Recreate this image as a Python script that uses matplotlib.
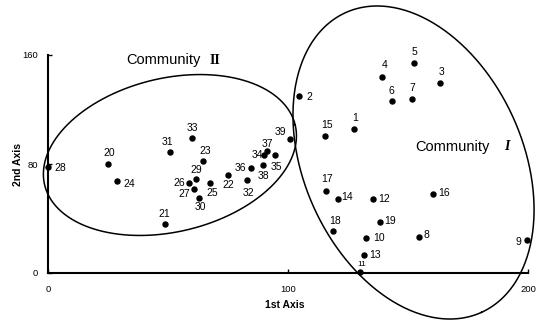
import numpy as np
import matplotlib.pyplot as plt

plt.rcParams['font.family'] = ['Liberation Sans', 'DejaVu Sans']

# site scores on the first two ordination axes
site_ids = list(range(1, 40))
axis1 = [127.5, 104.6, 163.5, 139.3, 152.4, 143.5, 151.5, 154.7, 199.7, 132.6,
         130.0, 135.4, 131.7, 120.7, 115.5, 160.5, 115.7, 118.8, 138.5, 24.9,
         48.9, 74.9, 64.7, 28.8, 67.6, 58.8, 60.8, 0.1, 61.8, 62.9,
         50.8, 82.8, 59.9, 90.1, 94.6, 84.7, 91.4, 89.7, 100.8]
axis2 = [105.7, 130.1, 139.2, 144.1, 154.3, 126.2, 127.9, 26.6, 24.2, 25.7,
         0.8, 54.1, 13.4, 54.1, 100.6, 58.2, 60.2, 30.8, 37.2, 80.0,
         36.2, 71.9, 82.2, 67.7, 66.1, 66.1, 61.9, 78.0, 69.0, 54.8,
         88.6, 68.5, 99.3, 86.6, 86.4, 77.3, 89.8, 79.5, 98.3]

# community ellipses: centre, first and second half-axis vectors (data units)
comm1_centre, comm1_u, comm1_v = (152.3, 81.1), (28.3, -110.0), (41.5, 33.1)
comm2_centre, comm2_u, comm2_v = (50.8, 86.6), (52.2, 22.0), (-7.44, 54.8)

# where each number sits relative to its dot (pixels, x right / y up)
label_offset = {
    1: (1, 11), 2: (10, -1), 3: (1, 11), 4: (2, 12), 5: (1, 11), 6: (-1, 10),
    7: (1, 11), 8: (7, 2), 9: (-9, -2), 10: (13, 0), 11: (2, 7), 12: (11, 0),
    13: (11, 0), 14: (9, 2), 15: (2, 11), 16: (11, 1), 17: (1, 12), 18: (2, 10),
    19: (10, 1), 20: (1, 11), 21: (-1, 10), 22: (1, -10), 23: (2, 10), 24: (12, -3),
    25: (2, -10), 26: (-10, 0), 27: (-10, -5), 28: (12, -1), 29: (0, 9), 30: (1, -9),
    31: (-2, 10), 32: (2, -13), 33: (1, 10), 34: (-7, 0), 35: (1, -12), 36: (-11, 0),
    37: (0, 7), 38: (0, -11), 39: (-9, 7),
}


def ellipse_xy(centre, u, v, n=400):
    t = np.linspace(0, 2 * np.pi, n)
    x = centre[0] + u[0] * np.cos(t) + v[0] * np.sin(t)
    y = centre[1] + u[1] * np.cos(t) + v[1] * np.sin(t)
    return x, y


fig = plt.figure(figsize=(5.42, 3.21), dpi=100)
ax = fig.add_axes([48 / 542, 48 / 321, 480 / 542, 218 / 321])

ax.set_xlim(0, 200)
ax.set_ylim(0, 160)
for side in ['top', 'right']:
    ax.spines[side].set_visible(False)
for side in ['left', 'bottom']:
    ax.spines[side].set_linewidth(1.5)

ax.set_xticks([0, 100, 200])
ax.set_yticks([0, 80, 160])
ax.tick_params(direction='in', length=3, width=1, labelsize=6.8)
ax.tick_params(axis='x', pad=9)
ax.tick_params(axis='y', pad=7)

for centre, u, v in [(comm1_centre, comm1_u, comm1_v), (comm2_centre, comm2_u, comm2_v)]:
    ex, ey = ellipse_xy(centre, u, v)
    ax.plot(ex, ey, color='black', lw=1.1, clip_on=False)

ax.plot(axis1, axis2, 'o', color='black', ms=3.6, clip_on=False, zorder=3)

for sid, x, y in zip(site_ids, axis1, axis2):
    dx, dy = label_offset[sid]
    ax.annotate(str(sid), (x, y), xytext=(dx * 0.72, dy * 0.72),
                textcoords='offset points', ha='center', va='center',
                fontsize=6 if sid == 11 else 7.5, annotation_clip=False)

ax.text(47.9, 156.3, 'Community', fontsize=10.5, ha='center', va='center')
ax.text(69.6, 156.3, 'II', fontsize=10, ha='center', va='center',
        family='Liberation Serif', weight='bold')
ax.text(168.7, 92.6, 'Community', fontsize=10.5, ha='center', va='center')
ax.text(191.3, 92.6, 'I', fontsize=10, ha='center', va='center',
        family='Liberation Serif', weight='bold', style='italic')

fig.text(285 / 542, 1 - 305 / 321, '1st Axis', fontsize=7.5, weight='bold',
         ha='center', va='center')
fig.text(18 / 542, 1 - 165 / 321, '2nd Axis', fontsize=7.5, weight='bold',
         ha='center', va='center', rotation=90)

fig.savefig('out.png', dpi=100)
